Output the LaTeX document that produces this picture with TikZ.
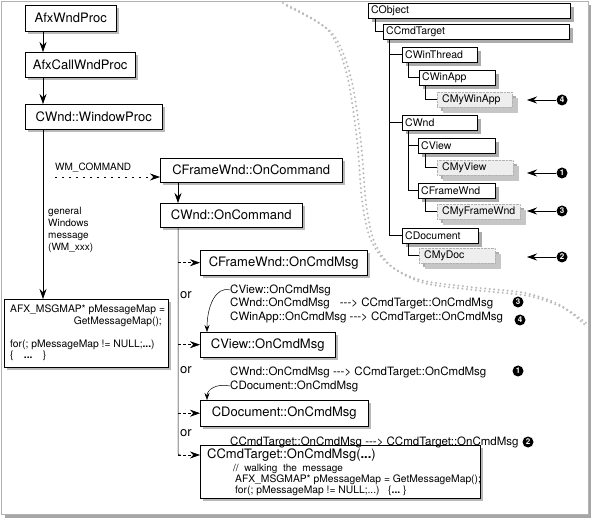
\documentclass[tikz,border=0pt]{standalone}
\usepackage{fontspec}
\setmainfont{TeX Gyre Heros}
\usetikzlibrary{arrows.meta,shadows}

\newcommand{\boxfont}{\fontsize{13}{15}\selectfont}
\newcommand{\smallfont}{\fontsize{10}{12}\selectfont}
\newcommand{\labelfont}{\fontsize{11.5}{13}\selectfont}
\newcommand{\codefont}{\fontsize{10.3}{12}\selectfont}
\newcommand{\treefont}{\hyphenpenalty=10000\fontsize{10.5}{12}\selectfont}
\newcommand{\arr}{-{}-{}->}

\begin{document}
\begin{tikzpicture}[x=1pt, y=-1pt,
	fn/.style = {draw, fill=white, anchor=north west, inner sep=0pt, font=\boxfont,
		drop shadow={opacity=1, fill=gray!55, shadow xshift=3pt, shadow yshift=-3pt}},
	cls/.style = {draw, fill=white, anchor=north west, inner xsep=3pt, inner ysep=0pt,
		minimum height=15pt, align=left, font=\treefont,
		drop shadow={opacity=1, fill=gray!65, shadow xshift=4pt, shadow yshift=-4pt}},
	mycls/.style = {cls, draw=gray!60, densely dotted, fill=gray!13, inner xsep=5pt,
		drop shadow={opacity=1, fill=gray!45, shadow xshift=6pt, shadow yshift=-6pt}},
	txt/.style = {anchor=west, inner sep=0pt, font=\smallfont},
	flow/.style = {-{Stealth[length=10pt,width=7pt]}, line width=0.6pt},
	twig/.style = {-{Stealth[length=10pt,width=7pt]}, densely dashed, line width=0.6pt},
	curl/.style = {-{Stealth[length=7pt,width=5pt]}, line width=0.5pt},
	link/.style = {line width=0.5pt},
	pointer/.style = {-{Stealth[length=10pt,width=7pt]}, line width=0.8pt},
	badge/.style = {circle, fill=black, text=white, inner sep=0pt, minimum size=11pt,
		font=\bfseries\fontsize{8}{8}\selectfont},
	sepdots/.style = {gray!55, line width=2.2pt, line cap=round, dash pattern=on 0pt off 4.5pt}]
	\useasboundingbox (0,0) rectangle (592,521);
	\fill[gray!70] (5,5) rectangle (591,518);
	\filldraw[fill=white, draw=gray!60] (1,1) rectangle (588,514);

	\draw[sepdots] plot[smooth] coordinates {(283,3) (328,30) (347,75) (357,140) (362,200) (370,238) (388,264) (420,280) (470,287) (525,293) (560,305) (585,325)};
	\draw[sepdots, shift={(4,3)}] plot[smooth] coordinates {(283,3) (328,30) (347,75) (357,140) (362,200) (370,238) (388,264) (420,280) (470,287) (525,293) (560,305) (582,320)};

	\node[fn, minimum width=91pt, minimum height=26pt] (afxwnd) at (25,5) {AfxWndProc};
	\node[fn, minimum width=110pt, minimum height=25pt] (afxcall) at (25,52) {AfxCallWndProc};
	\node[fn, minimum width=137pt, minimum height=25pt] (wndproc) at (25,104) {CWnd::WindowProc};
	\node[fn, minimum width=164pt, minimum height=68pt] (msgmap) at (4,299) {};
	\node[txt, font=\codefont] (mm1) at (10,310) {AFX\_MSGMAP* pMessageMap =};
	\node[txt, font=\codefont, anchor=east] (mm2) at (162,322) {GetMessageMap();};
	\node[txt, font=\codefont] (mm3) at (10,345) {for(; pMessageMap != NULL;\textbf{...})};
	\node[txt, font=\codefont] (mm4) at (10,356) {\{\quad\textbf{...}\quad\}};
	\coordinate (spine) at (43,0);
	\draw[flow] (afxwnd.south -| spine) -- (afxcall.north -| spine);
	\draw[flow] (afxcall.south -| spine) -- (wndproc.north -| spine);
	\draw[flow] (wndproc.south -| spine) -- (msgmap.north -| spine);
	\node[txt, align=left, anchor=north west] (general) at (48,207) {general\\Windows\\message\\(WM\_xxx)};

	\node[fn, minimum width=182pt, minimum height=24pt] (frameoncmd) at (160,158) {CFrameWnd::OnCommand};
	\node[fn, minimum width=142pt, minimum height=24pt] (wndoncmd) at (160,203) {CWnd::OnCommand};
	\node[txt] (wmcmd) at (55,168) {WM\_COMMAND};
	\coordinate (wmstart) at (55,177);
	\draw[flow, dash pattern=on 2pt off 5pt] (wmstart) -- (wmstart -| frameoncmd.west);
	\coordinate (branch) at (178,0);
	\draw[flow] (frameoncmd.south -| branch) -- (wndoncmd.north -| branch);

	\node[fn, minimum width=167pt, minimum height=25pt] (frameonmsg) at (200,250) {CFrameWnd::OnCmdMsg};
	\node[fn, minimum width=135pt, minimum height=25pt] (viewonmsg) at (200,332) {CView::OnCmdMsg};
	\node[fn, minimum width=168pt, minimum height=26pt] (doconmsg) at (200,400) {CDocument::OnCmdMsg};
	\node[fn, minimum width=280pt, minimum height=53pt] (cmdtarget) at (200,445) {};
	\node[txt, font=\boxfont] (ct0) at (207,455) {CCmdTarget::OnCmdMsg(\textbf{...})};
	\node[txt] (ct1) at (233,469) {//\ \ walking\ \ the\ \ message};
	\node[txt, font=\codefont] (ct2) at (235,479.5) {AFX\_MSGMAP* pMessageMap = GetMessageMap();};
	\node[txt, font=\codefont] (ct3) at (235,490.5) {for(; pMessageMap != NULL;...)\ \ \ \{\textbf{...}\ \}};
	\coordinate (ctin) at ([yshift=-10pt]cmdtarget.north west);
	\draw[link, rounded corners=2pt] (wndoncmd.south -| branch) -- (ctin -| branch) -- ++(3,0);
	\foreach \t in {frameonmsg, viewonmsg, doconmsg}
		\draw[twig] (\t.west -| branch) -- (\t.west);
	\draw[twig] (ctin -| branch) -- (ctin);
	\node[txt, font=\boxfont] (or1) at (180,295) {or};
	\node[txt, font=\boxfont] (or2) at (180,370) {or};
	\node[txt, font=\boxfont] (or3) at (180,433) {or};

	\node[txt, font=\labelfont] (viewlbl) at (230,290) {CView::OnCmdMsg};
	\node[txt, font=\labelfont] (wndlbl) at (230,303) {CWnd::OnCmdMsg\hspace{10pt}\arr\ CCmdTarget::OnCmdMsg};
	\node[txt, font=\labelfont] (applbl) at (230,317) {CWinApp::OnCmdMsg \arr\ CCmdTarget::OnCmdMsg};
	\node[txt, font=\labelfont] (wndlbl2) at (230,372) {CWnd::OnCmdMsg \arr\ CCmdTarget::OnCmdMsg};
	\node[txt, font=\labelfont] (doclbl) at (230,386) {CDocument::OnCmdMsg};
	\node[txt, font=\labelfont] (ctlbl) at (230,442) {CCmdTarget::OnCmdMsg \arr\ CCmdTarget::OnCmdMsg};
	\draw[curl] (viewlbl.west) .. controls +(-14,-4) and +(0,-26) .. ([xshift=7pt]viewonmsg.north west);
	\draw[curl] (doclbl.west) .. controls +(-14,-3) and +(0,-10) .. ([xshift=7pt]doconmsg.north west);
	\node[badge] (t3) at (518,302) {3};
	\node[badge] (t4) at (520,320) {4};
	\node[badge] (t1) at (518,371) {1};
	\node[badge] (t2) at (528,442) {2};

	\node[cls, text width=196pt] (cobject) at (368,3) {CObject};
	\node[cls, text width=180pt] (ccmdtarget) at (383,24) {CCmdTarget};
	\node[cls, text width=69pt] (cwinthread) at (402,47) {CWinThread};
	\node[cls, text width=70pt] (cwinapp) at (419,70) {CWinApp};
	\node[mycls, text width=65pt] (cmywinapp) at (437,92) {CMyWinApp};
	\node[cls, text width=69pt] (cwnd) at (402,115) {CWnd};
	\node[cls, text width=71pt] (cview) at (418,138) {CView};
	\node[mycls, text width=66pt] (cmyview) at (437,160) {CMyView};
	\node[cls, text width=71pt] (cframewnd) at (418,183) {CFrameWnd};
	\node[mycls, text width=73pt] (cmyframewnd) at (437,204) {CMyFrameWnd};
	\node[cls, text width=70pt] (cdocument) at (402,228) {CDocument};
	\node[mycls, text width=66pt] (cmydoc) at (419,248) {CMyDoc};
	\draw[link] ([xshift=7pt]cobject.south west) |- (ccmdtarget.west);
	\foreach \t in {cwinthread, cwnd, cdocument}
		\draw[link] ([xshift=6pt]ccmdtarget.south west) |- (\t.west);
	\draw[link] ([xshift=6pt]cwinthread.south west) |- (cwinapp.west);
	\draw[link] ([xshift=6pt]cwinapp.south west) |- (cmywinapp.west);
	\draw[link] ([xshift=6pt]cwnd.south west) |- (cview.west);
	\draw[link] ([xshift=6pt]cwnd.south west) |- (cframewnd.west);
	\draw[link] ([xshift=7pt]cview.south west) |- (cmyview.west);
	\draw[link] ([xshift=7pt]cframewnd.south west) |- (cmyframewnd.west);
	\draw[link] ([xshift=6pt]cdocument.south west) |- (cmydoc.west);

	\coordinate (tipx) at (527,0);
	\node[badge] (b4) at (562,100) {4};
	\node[badge] (b1) at (562,173) {1};
	\node[badge] (b3) at (562,211) {3};
	\node[badge] (b2) at (562,257) {2};
	\foreach \b in {b4, b1, b3, b2}
		\draw[pointer] (\b) -- (\b -| tipx);
\end{tikzpicture}
\end{document}
